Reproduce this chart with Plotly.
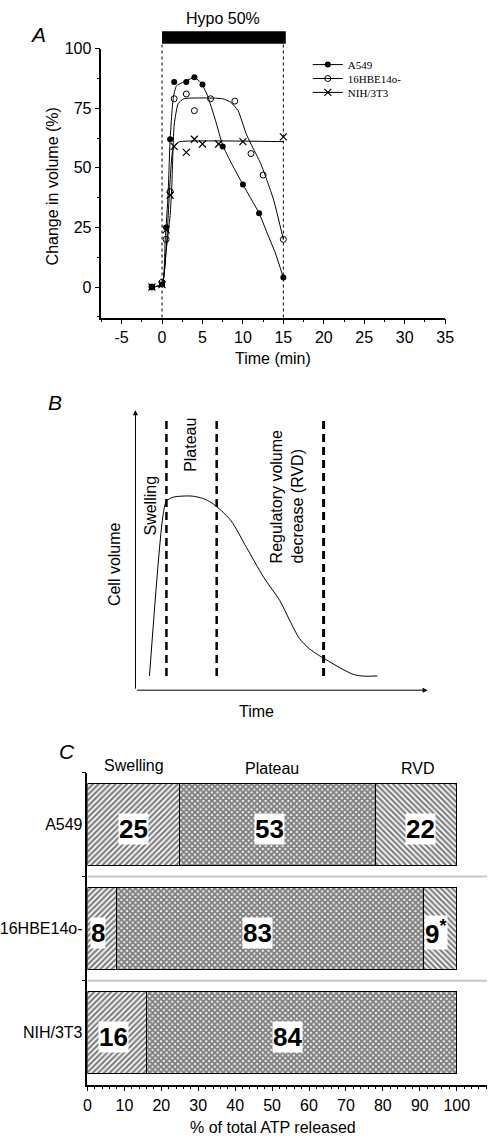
import plotly.graph_objects as go

FONT = "Liberation Sans, Arial, sans-serif"
SERIF = "Liberation Serif, Times New Roman, serif"
W, H = 496, 1138

# ---------------- Panel A data ----------------
a549_t = [-1.25, 0, 0.5, 1, 1.5, 3, 4, 5, 7.5, 10, 12, 15]
a549_v = [0, 1, 25, 62, 86, 86, 88, 85, 59, 43, 31, 4]
hbe_t = [-1.25, 0, 0.5, 1, 1.5, 3, 4, 6, 9, 11, 12.5, 15]
hbe_v = [0, 2, 20, 40, 79, 81, 74, 79, 78, 56, 47, 20]
nih_t = [-1.25, 0, 0.5, 1, 1.5, 3, 4, 5, 7, 10, 15]
nih_v = [0, 1, 24, 38.5, 59, 56.5, 62, 60, 60, 61, 63]

# fitted curves
a549_fit_t = [-1.25, 0, 0.4, 0.75, 1, 1.4, 1.8, 3, 4, 4.8, 5.6, 6.6, 7.5, 8.6, 10, 11, 12, 13, 14, 15]
a549_fit_v = [0, 1, 20, 39, 62, 79.6, 84.5, 86.5, 87.9, 85.8, 80.5, 70, 59.5, 51.8, 43, 37, 31, 22.6, 14.3, 4]
hbe_fit_t = [-1.25, 0, 0.5, 1, 1.2, 1.5, 2, 2.7, 7.5, 8.5, 9.4, 10.4, 11, 12.2, 13, 13.8, 15]
hbe_fit_v = [0, 1, 15, 30, 42, 68, 77, 79, 79, 77.5, 74, 64.3, 60, 51.8, 44.5, 36.5, 20]
nih_fit_t = [-1.25, 0, 0.5, 1, 1.3, 1.7, 2.2, 15]
nih_fit_v = [0, 1, 15, 45, 57, 60, 61, 61]

x_ticks = [-5, 0, 5, 10, 15, 20, 25, 30, 35]
x_ticktext = ["-5", "0", "5", "10", "15", "20", "25", "30", "35"]

# ---------------- Panel B schematic ----------------
b_time = [4.8, 9.4, 10.6, 12.8, 16, 19.4, 23, 26.1, 29.5, 32.8, 38, 43.9, 49.4, 52.8, 56.1, 59.5, 63, 67, 71, 75, 78.5, 82.8]
b_vol = [5.1, 62.2, 67.5, 68.9, 69.3, 69.3, 68.5, 66.9, 64.0, 60.4, 51, 40.3, 32.0, 24.9, 18.5, 14.8, 12.3, 9.8, 7.4, 5.5, 5.0, 5.1]
b_phase_bounds = [10.6, 27.8, 64.4]

# ---------------- Panel C data ----------------
cells = ["A549", "16HBE14o-", "NIH/3T3"]
swelling = [25, 8, 16]
plateau = [53, 83, 84]
rvd = [22, 9, 0]
phase_labels = ["Swelling", "Plateau", "RVD"]

fig = go.Figure()

# Panel A fits
for t, v in [(a549_fit_t, a549_fit_v), (hbe_fit_t, hbe_fit_v), (nih_fit_t, nih_fit_v)]:
    fig.add_trace(go.Scatter(x=t, y=v, mode="lines", line=dict(color="black", width=1, shape="spline", smoothing=0.5),
                             showlegend=False, hoverinfo="skip", xaxis="x", yaxis="y"))

series = [
    ("A549", a549_t, a549_v, dict(symbol="circle", size=6, color="black")),
    ("16HBE14o-", hbe_t, hbe_v, dict(symbol="circle-open", size=6, color="black", line=dict(width=1, color="black"))),
    ("NIH/3T3", nih_t, nih_v, dict(symbol="x-thin-open", size=7, color="black", line=dict(width=1.2, color="black"))),
]
for name, t, v, mk in series:
    fig.add_trace(go.Scatter(x=t, y=v, mode="markers", marker=mk, showlegend=False, xaxis="x", yaxis="y"))
legend_ids = ["legend", "legend2", "legend3"]
for (name, t, v, mk), lid in zip(series, legend_ids):
    fig.add_trace(go.Scatter(x=[None], y=[None], mode="lines+markers", marker=mk, name=name, legend=lid,
                             line=dict(color="black", width=1), xaxis="x", yaxis="y"))

# Panel B
fig.add_trace(go.Scatter(x=b_time, y=b_vol, mode="lines", line=dict(color="black", width=1, shape="spline", smoothing=0.8),
                         showlegend=False, xaxis="x2", yaxis="y2"))

# Panel C bars
patterns = [("/", 4, 0.55), ("x", 4, 0.75), ("\\", 4, 0.55)]
for vals, (shape, size, sol), nm in zip([swelling, plateau, rvd], patterns, phase_labels):
    fig.add_trace(go.Bar(y=cells, x=vals, orientation="h", width=0.79, name=nm, showlegend=False,
                         marker=dict(color="white", line=dict(color="black", width=1),
                                     pattern=dict(shape=shape, fgcolor="black", bgcolor="white", size=size, solidity=sol)),
                         xaxis="x3", yaxis="y3"))

ann = []
shapes = []

def px(xp):
    return xp / W

def py(yp):
    return 1 - yp / H

def txt(text, xp_, yp_, size=16, angle=0, **kw):
    d = dict(text=text, x=px(xp_), y=py(yp_), xref="paper", yref="paper", showarrow=False,
             xanchor="center", yanchor="middle", textangle=angle, font=dict(size=size, family=FONT, color="black"))
    d.update(kw)
    return d

# Panel A decorations
ann.append(txt("<i>A</i>", 35, 27, size=21))
ann.append(dict(text="Hypo 50%", x=7.5, y=py(11), xref="x", yref="paper", showarrow=False,
                xanchor="center", yanchor="middle", font=dict(size=16, family=FONT, color="black")))
ann.append(txt("Change in volume (%)", 50, 180, angle=-90))
ann.append(txt("Time (min)", 276, 353))
shapes.append(dict(type="rect", xref="x", yref="paper", x0=0, x1=15.3, y0=py(36), y1=py(23.3),
                   fillcolor="black", line=dict(width=0)))
for xv in [0, 15]:
    shapes.append(dict(type="line", xref="x", yref="paper", x0=xv, x1=xv, y0=py(311.7), y1=py(36),
                       line=dict(color="black", width=1, dash="dot")))

# Panel B decorations
ann.append(txt("<i>B</i>", 52, 397, size=21))
ann.append(dict(text="", x=100, y=0, ax=0, ay=0, xref="x2", yref="y2", axref="x2", ayref="y2",
                showarrow=True, arrowhead=2, arrowsize=1, arrowwidth=1, arrowcolor="black", standoff=0))
ann.append(dict(text="", x=0, y=100, ax=0, ay=0, xref="x2", yref="y2", axref="x2", ayref="y2",
                showarrow=True, arrowhead=2, arrowsize=1, arrowwidth=1, arrowcolor="black", standoff=0))
ann.append(txt("Cell volume", 113, 560, angle=-90))
ann.append(txt("Time", 259, 708))
ann.append(txt("Swelling", 150, 501, angle=-90))
ann.append(txt("Plateau", 192, 440, angle=-90))
ann.append(txt("Regulatory volume<br>decrease (RVD)", 291, 491.5, angle=-90, align="left"))
for i, xb in enumerate(b_phase_bounds):
    shapes.append(dict(type="line", xref="x2", yref="y2", x0=xb, x1=xb, y0=5.1, y1=97.2,
                       line=dict(color="black", width=3 if i == 2 else 2.5, dash="8px,5px")))

# Panel C decorations
ann.append(txt("<i>C</i>", 65, 749, size=21))
for lab, xp_, yp_ in zip(phase_labels, [133, 275, 425], [763, 765.5, 765.5]):
    ann.append(txt(lab, xp_, yp_))
ann.append(txt("% of total ATP released", 276, 1127))

label_shift = [[0, -8, 4], [-4, -13, -4], [-3, -14, 0]]
for i, c in enumerate(cells):
    starts = [0, swelling[i], swelling[i] + plateau[i]]
    vals = [swelling[i], plateau[i], rvd[i]]
    for j in range(3):
        if vals[j] <= 0:
            continue
        t = str(vals[j])
        if i == 1 and j == 2:
            t = "9<sup>*</sup>"
        ann.append(dict(text=t, x=starts[j] + vals[j] / 2, y=c, xref="x3", yref="y3", showarrow=False,
                        xanchor="center", yanchor="middle",
                        xshift=label_shift[i][j], yshift=-4, bgcolor="white", borderpad=0,
                        font=dict(size=26, family=FONT, weight="bold", color="black")))
for yb in [0.5, 1.5]:
    shapes.append(dict(type="line", xref="paper", yref="y3", x0=px(86), x1=1, y0=yb, y1=yb,
                       line=dict(color="#c8c8c8", width=2)))

axis_common = dict(showline=True, linecolor="black", linewidth=1.5, ticks="outside", tickcolor="black",
                   tickwidth=1.2, showgrid=False, zeroline=False,
                   tickfont=dict(size=16, family=FONT, color="black"))

leg_common = dict(xanchor="left", yanchor="middle", bgcolor="rgba(0,0,0,0)",
                  font=dict(family=SERIF, size=11, color="black"), itemwidth=30)

fig.update_layout(
    width=W, height=H, margin=dict(l=0, r=0, t=0, b=0),
    plot_bgcolor="white", paper_bgcolor="white",
    font=dict(family=FONT, color="black"),
    barmode="stack",
    xaxis=dict(domain=[px(100), px(453)], range=[-7.5, 35], tickmode="array", tickvals=x_ticks, ticktext=x_ticktext,
               anchor="y", ticklen=5,
               minor=dict(ticks="outside", ticklen=3, dtick=2.5, tick0=0, tickcolor="black"), **axis_common),
    yaxis=dict(domain=[py(311.7), py(41)], range=[-12.8, 100], tick0=0, dtick=25, anchor="x", ticklen=5,
               minor=dict(ticks="outside", ticklen=3, dtick=12.5, tick0=0, tickcolor="black"), **axis_common),
    xaxis2=dict(domain=[px(135), px(435)], range=[0, 100], visible=False, anchor="y2"),
    yaxis2=dict(domain=[py(687), py(405)], range=[0, 100], visible=False, anchor="x2"),
    xaxis3=dict(domain=[px(85.7), 1], range=[0, 108.2], tick0=0, dtick=10, anchor="y3", ticklen=5,
                minor=dict(ticks="outside", ticklen=3, dtick=2, tick0=0, tickcolor="black"), **axis_common),
    yaxis3=dict(domain=[py(1084.3), py(770)], range=[2.5, -0.5], type="category", anchor="x3",
                tickson="boundaries", ticklen=4, **axis_common),
    legend=dict(x=px(312), y=py(57), **leg_common),
    legend2=dict(x=px(312), y=py(71), **leg_common),
    legend3=dict(x=px(312), y=py(85), **leg_common),
    annotations=ann, shapes=shapes,
)

fig.write_html("out.html", post_script="document.body.style.margin='0';", config={"displayModeBar": False})
